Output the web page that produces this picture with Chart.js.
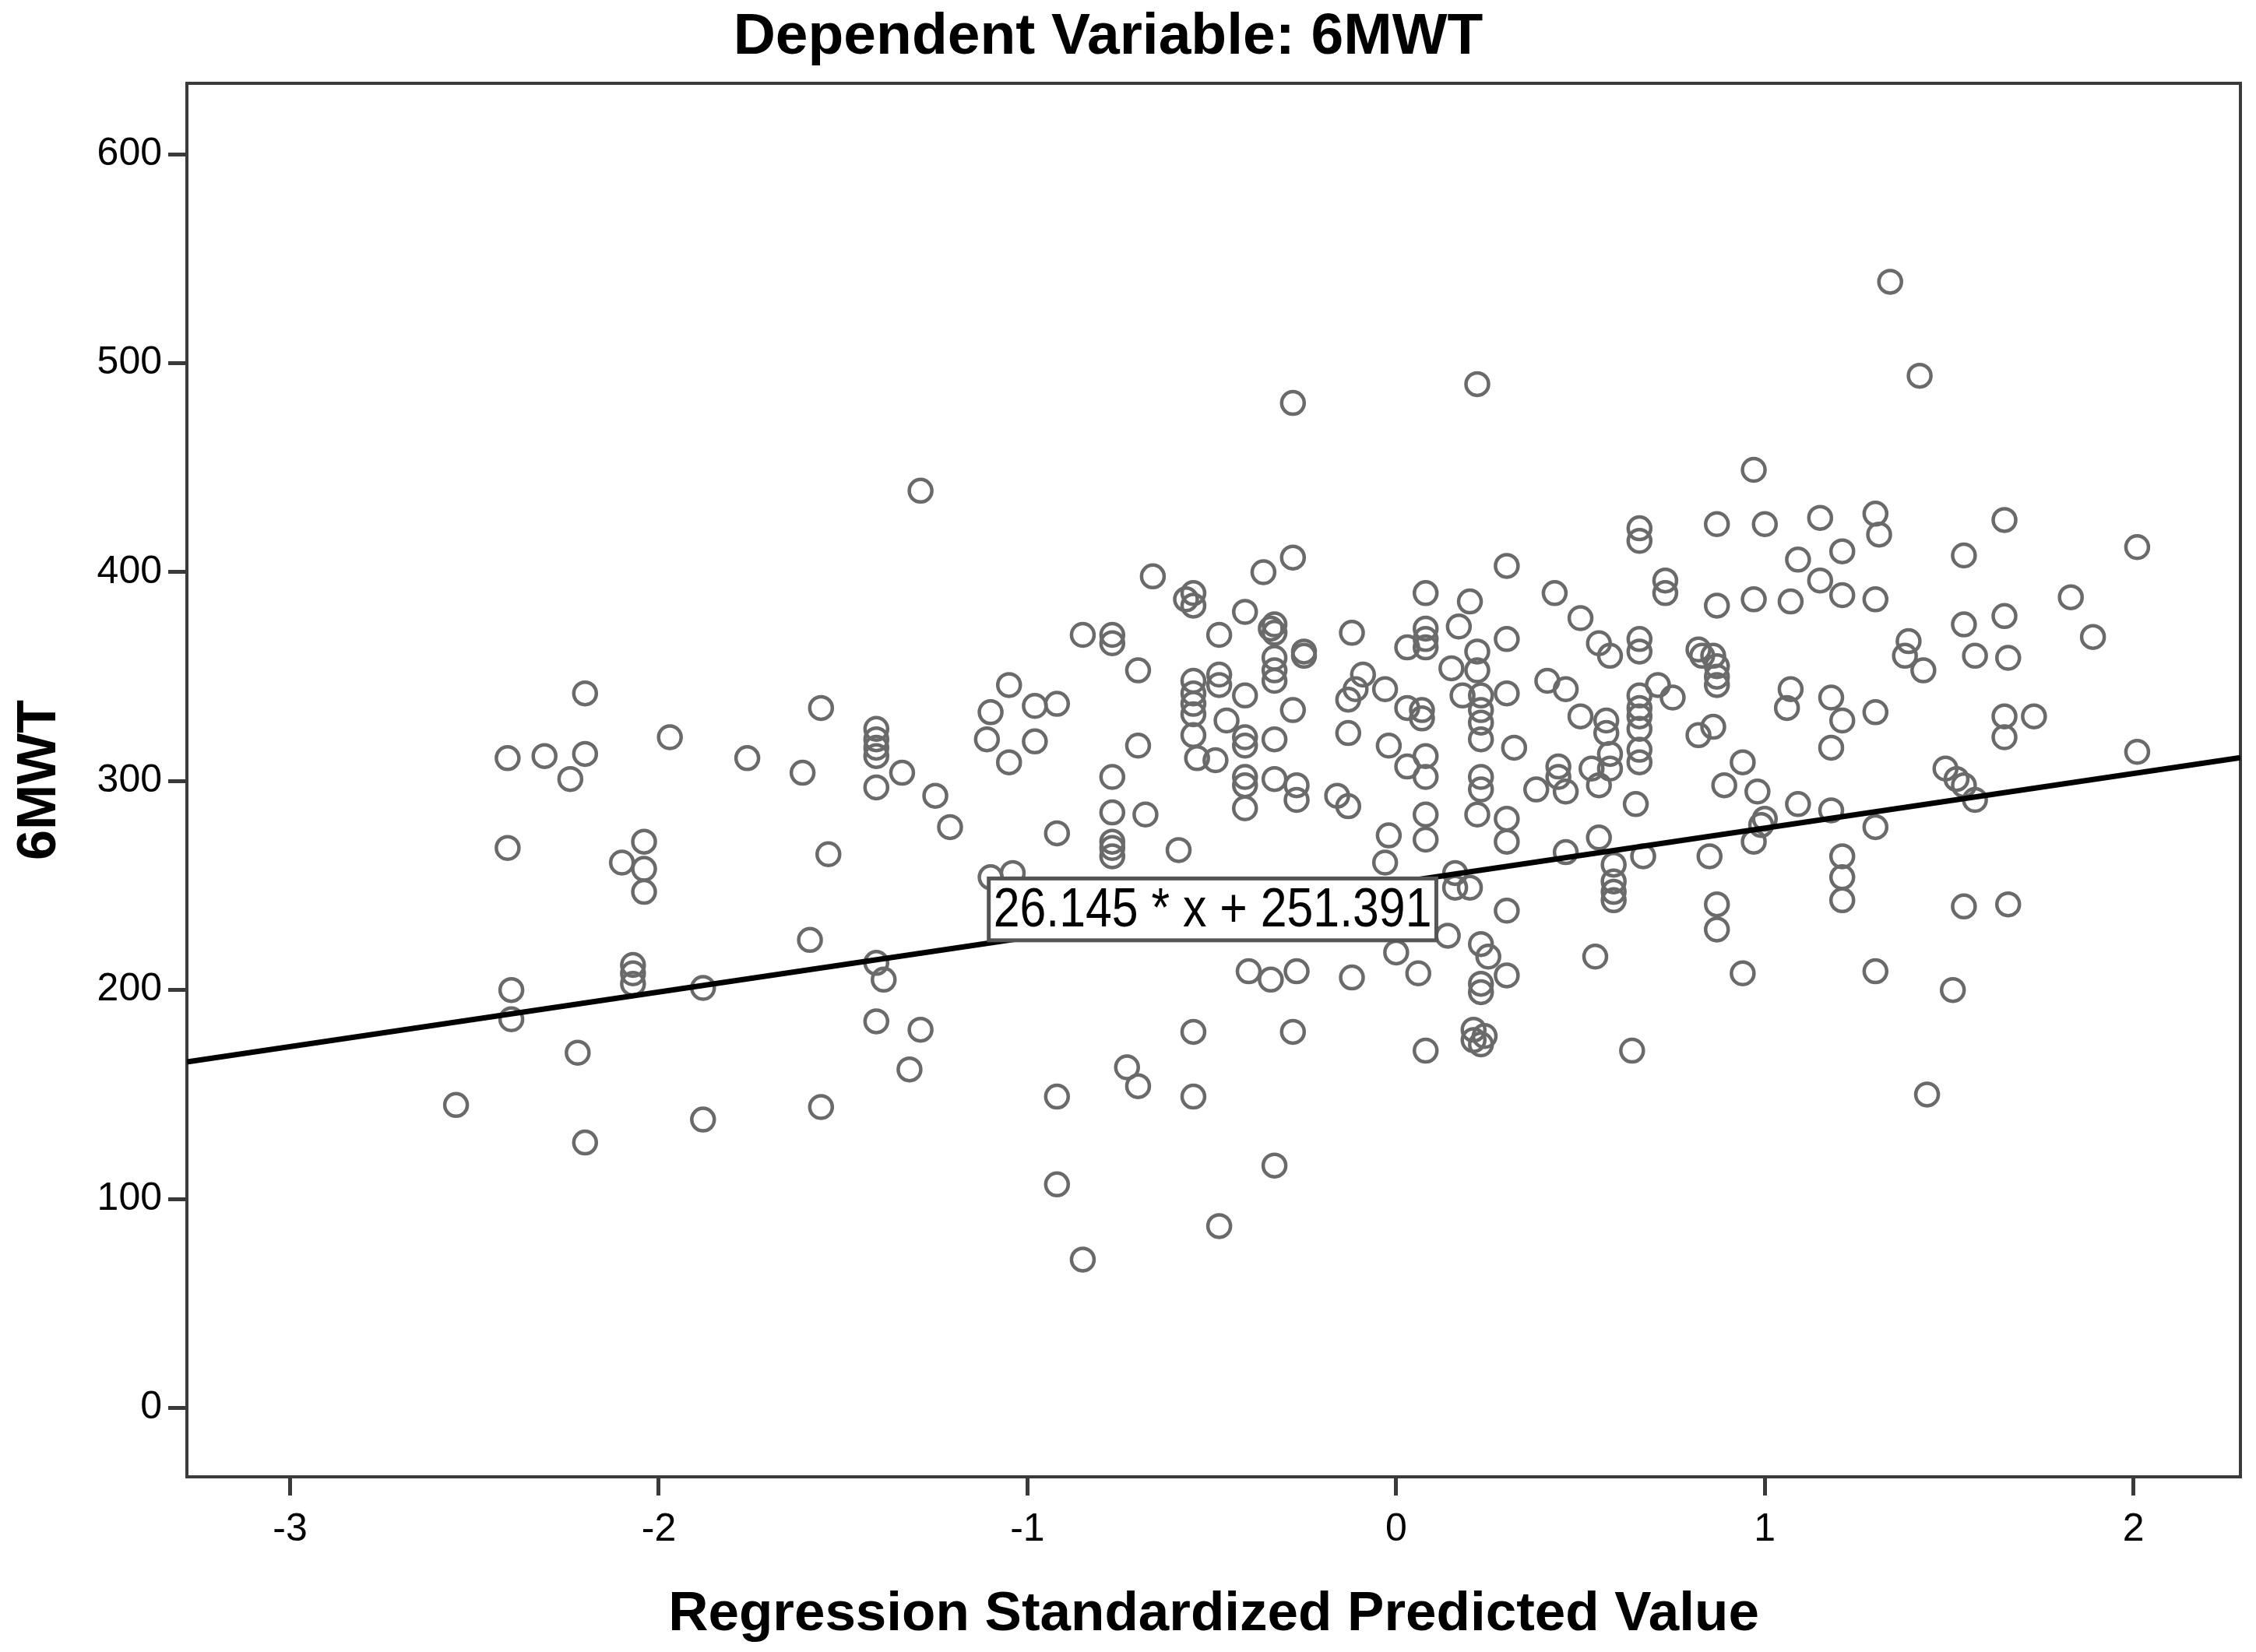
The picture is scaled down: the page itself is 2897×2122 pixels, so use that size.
<!DOCTYPE html>
<html>
<head>
<meta charset="utf-8">
<script src="https://cdn.jsdelivr.net/npm/chart.js@4.4.1/dist/chart.umd.min.js"></script>
<style>
  body { margin: 0; background: #fff; }
  canvas { display: block; }
</style>
</head>
<body>
<canvas id="chart" width="2897" height="2122"></canvas>
<script>
// regression standardized predicted value (x) for each case
const predicted = [
  -2.55,-2.41,-2.41,-2.40,-2.40,-2.31,-2.24,-2.22,-2.20,-2.20,
  -2.20,-2.10,-2.07,-2.07,-2.07,-2.04,-2.04,-2.04,-1.97,-1.88,
  -1.88,-1.76,-1.61,-1.59,-1.56,-1.56,-1.54,-1.41,-1.41,-1.41,
  -1.41,-1.41,-1.41,-1.39,-1.41,-1.34,-1.32,-1.29,-1.29,-1.25,
  -1.21,-1.11,-1.10,-1.10,-1.05,-1.05,-1.04,-0.98,-0.98,-0.92,
  -0.92,-0.92,-0.92,-0.85,-0.85,-0.77,-0.77,-0.77,-0.77,-0.77,
  -0.77,-0.77,-0.73,-0.70,-0.70,-0.70,-0.68,-0.66,-0.59,-0.57,
  -0.55,-0.55,-0.55,-0.55,-0.55,-0.55,-0.55,-0.55,-0.55,-0.54,
  -0.49,-0.48,-0.48,-0.48,-0.48,-0.46,-0.41,-0.41,-0.41,-0.41,
  -0.41,-0.41,-0.41,-0.40,-0.34,-0.33,-0.33,-0.36,-0.33,-0.33,
  -0.33,-0.33,-0.33,-0.34,-0.33,-0.28,-0.28,-0.28,-0.27,-0.27,
  -0.28,-0.27,-0.25,-0.25,-0.16,-0.13,-0.13,-0.13,-0.11,-0.09,
  -0.12,-0.12,-0.03,-0.02,-0.02,-0.03,0.00,0.03,0.03,0.03,
  0.06,0.08,0.08,0.08,0.08,0.07,0.07,0.08,0.08,0.08,
  0.08,0.08,0.14,0.16,0.16,0.17,0.15,0.18,0.20,0.20,
  0.22,0.22,0.22,0.23,0.23,0.23,0.23,0.23,0.23,0.22,
  0.23,0.25,0.23,0.23,0.21,0.21,0.23,0.24,0.30,0.30,
  0.30,0.30,0.30,0.30,0.30,0.32,0.38,0.41,0.43,0.44,
  0.44,0.46,0.46,0.46,0.50,0.50,0.54,0.55,0.58,0.57,
  0.57,0.58,0.53,0.58,0.55,0.55,0.59,0.59,0.59,0.59,
  0.64,0.66,0.66,0.66,0.66,0.66,0.66,0.66,0.66,0.65,
  0.66,0.66,0.67,0.71,0.73,0.73,0.75,0.82,0.82,0.83,
  0.85,0.86,0.86,0.87,0.87,0.87,0.87,0.87,0.87,0.87,
  0.89,0.94,0.94,0.97,0.97,0.97,0.98,1.00,1.00,0.99,
  1.07,1.07,1.06,1.09,1.09,1.15,1.15,1.18,1.18,1.18,
  1.21,1.21,1.21,1.21,1.21,1.21,1.30,1.31,1.30,1.30,
  1.30,1.30,1.34,1.39,1.38,1.42,1.43,1.44,1.49,1.52,
  1.54,1.51,1.54,1.54,1.54,1.57,1.57,1.65,1.65,1.65,
  1.65,1.66,1.66,1.73,1.83,1.89,2.01,2.01
];

// 6MWT distance for the same cases
const walkDistance = [
  145,311,268,200,186,312,301,170,342,313,
  127,261,212,208,203,271,258,247,321,201,
  138,311,304,224,335,144,265,325,320,316,
  312,297,213,205,185,304,162,439,181,293,
  278,320,333,254,346,309,256,336,319,337,
  275,149,107,370,71,370,366,302,285,271,
  268,264,163,353,317,154,284,398,267,387,
  390,384,348,342,337,332,322,180,149,311,
  310,370,351,346,87,329,381,341,321,317,
  302,298,287,209,373,375,371,400,359,353,
  348,320,301,205,116,481,407,334,298,291,
  180,209,360,362,293,288,339,323,344,351,
  371,206,344,317,274,261,218,335,364,307,
  208,390,373,368,364,334,330,312,302,284,
  272,171,226,256,249,374,354,341,386,249,
  490,362,353,341,334,328,320,302,296,284,
  222,216,203,199,181,176,174,178,403,368,
  342,282,271,207,238,316,296,348,390,307,
  302,344,295,266,378,331,216,366,360,329,
  323,313,306,306,298,273,260,252,247,243,
  171,368,362,341,335,331,325,315,309,289,
  421,415,264,346,396,390,340,322,363,360,
  264,360,326,423,384,355,350,346,241,229,
  298,309,208,449,387,271,295,423,282,279,
  386,344,335,406,289,426,396,340,316,286,
  410,389,329,264,254,243,428,418,387,333,
  278,209,539,367,360,494,353,150,306,301,
  298,200,408,375,240,291,360,425,379,331,
  321,359,241,331,388,369,412,314
];

// axis ticks and ranges
const xTicks = [-3, -2, -1, 0, 1, 2];
const yTicks = [0, 100, 200, 300, 400, 500, 600];
const xRange = [-3.28, 2.29];
const yRange = [-33, 634];

// fit line printed on the chart
const slope = 26.145;
const intercept = 251.391;
const fitLabel = '26.145 * x + 251.391';
// where the label box sits, in data units
const labelBox = { x0: -1.105, x1: 0.109, y0: 223.8, y1: 253.4 };

const FONT = "'Liberation Sans', Arial, sans-serif";

// build points for the scatter
let points = predicted.map((x, i) => ({ x: x, y: walkDistance[i] }));
let fitLine = xRange.map(x => ({ x: x, y: slope * x + intercept }));

// frame, title and the equation label
const extras = {
  id: 'extras',
  beforeDatasetsDraw(chart) {
    const { ctx, chartArea: a } = chart;
    ctx.save();
    ctx.strokeStyle = '#3a3a3a';
    ctx.lineWidth = 4;
    ctx.strokeRect(a.left, a.top, a.right - a.left, a.bottom - a.top);
    ctx.restore();
  },
  afterDraw(chart) {
    const { ctx } = chart;
    const xs = chart.scales.x, ys = chart.scales.y;

    ctx.save();
    ctx.fillStyle = '#000';
    ctx.font = 'bold 75px ' + FONT;
    ctx.textAlign = 'center';
    ctx.textBaseline = 'middle';
    ctx.fillText('Dependent Variable: 6MWT', 1423, 48);

    // equation box
    let left = xs.getPixelForValue(labelBox.x0);
    let right = xs.getPixelForValue(labelBox.x1);
    let top = ys.getPixelForValue(labelBox.y1);
    let bottom = ys.getPixelForValue(labelBox.y0);
    ctx.fillStyle = '#fff';
    ctx.fillRect(left, top, right - left, bottom - top);
    ctx.strokeStyle = '#555';
    ctx.lineWidth = 5;
    ctx.strokeRect(left, top, right - left, bottom - top);

    ctx.font = '70px ' + FONT;
    let w = ctx.measureText(fitLabel).width;
    let target = right - left - 12;
    ctx.translate((left + right) / 2, (top + bottom) / 2 + 3);
    ctx.scale(target / w, 1);
    ctx.fillStyle = '#000';
    ctx.fillText(fitLabel, 0, 0);
    ctx.restore();
  }
};

new Chart(document.getElementById('chart').getContext('2d'), {
  type: 'scatter',
  data: {
    datasets: [
      {
        type: 'line',
        data: fitLine,
        borderColor: '#000',
        borderWidth: 7,
        pointRadius: 0,
        fill: false,
        tension: 0
      },
      {
        data: points,
        pointStyle: 'circle',
        pointRadius: 14.5,
        pointBorderWidth: 4.5,
        pointBorderColor: '#6a6a6a',
        pointBackgroundColor: 'rgba(0,0,0,0)'
      }
    ]
  },
  options: {
    responsive: false,
    devicePixelRatio: 1,
    animation: false,
    layout: { padding: { top: 107, right: 20, left: 0, bottom: 0 } },
    plugins: {
      legend: { display: false },
      tooltip: { enabled: false },
      title: { display: false }
    },
    scales: {
      x: {
        type: 'linear',
        min: xRange[0],
        max: xRange[1],
        afterBuildTicks: s => { s.ticks = xTicks.map(v => ({ value: v })); },
        afterFit: s => { s.height = 225; },
        border: { display: false },
        grid: {
          display: true,
          drawOnChartArea: false,
          drawTicks: true,
          tickLength: 24,
          tickWidth: 5,
          tickColor: '#3a3a3a'
        },
        ticks: {
          color: '#000',
          padding: 14,
          maxRotation: 0,
          font: { family: FONT, size: 50 }
        },
        title: {
          display: true,
          text: 'Regression Standardized Predicted Value',
          color: '#000',
          font: { family: FONT, size: 71, weight: 'bold' },
          padding: { top: 0, bottom: 5 }
        }
      },
      y: {
        type: 'linear',
        min: yRange[0],
        max: yRange[1],
        afterBuildTicks: s => { s.ticks = yTicks.map(v => ({ value: v })); },
        afterFit: s => { s.width = 240; },
        border: { display: false },
        grid: {
          display: true,
          drawOnChartArea: false,
          drawTicks: true,
          tickLength: 24,
          tickWidth: 5,
          tickColor: '#3a3a3a'
        },
        ticks: {
          color: '#000',
          padding: 8,
          font: { family: FONT, size: 50 }
        },
        title: {
          display: true,
          text: '6MWT',
          color: '#000',
          font: { family: FONT, size: 70, weight: 'bold' },
          padding: { top: 10, bottom: 0 }
        }
      }
    }
  },
  plugins: [extras]
});
</script>
</body>
</html>
